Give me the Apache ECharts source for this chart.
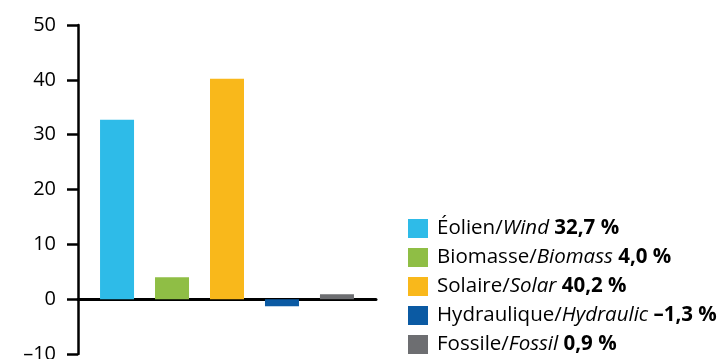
<!DOCTYPE html>
<html>
<head>
<meta charset="utf-8">
<script src="https://cdn.jsdelivr.net/npm/echarts@6/dist/echarts.min.js"></script>
<style>
  html, body { margin: 0; padding: 0; background: #fff; }
  #chart { width: 721px; height: 359px; }
</style>
</head>
<body>
<div id="chart"></div>
<script>
'use strict';

var namesFr = ['Éolien', 'Biomasse', 'Solaire', 'Hydraulique', 'Fossile'];
var namesEn = ['Wind', 'Biomass', 'Solar', 'Hydraulic', 'Fossil'];
var values = [32.7, 4.0, 40.2, -1.3, 0.9];
var colors = ['#2ebbe8', '#8fbe45', '#f9b81b', '#0b5aa3', '#6d6e71'];
var yTicks = { min: -10, max: 50, step: 10 };

var FONT = '"Open Sans", sans-serif';

function fmt(v) {
    var s = Math.abs(v).toFixed(1).replace('.', ',') + ' %';
    return v < 0 ? '–' + s : s;
}

var series = namesFr.map(function(n, i) {
    return {
        name: n,
        type: 'bar',
        stack: 'all',
        barWidth: 34,
        itemStyle: { color: colors[i] },
        data: [[i, values[i]]]
    };
});

var myChart = echarts.init(document.getElementById('chart'));
myChart.setOption({
    animation: false,
    grid: { left: 78, right: 345, top: 25, bottom: 5, outerBoundsMode: 'none', containLabel: false },
    xAxis: {
        type: 'value',
        min: -0.71,
        max: 4.71,
        axisLine: { show: true, onZero: true, lineStyle: { color: '#000', width: 3 } },
        axisTick: { show: false },
        axisLabel: { show: false },
        splitLine: { show: false }
    },
    yAxis: {
        type: 'value',
        min: yTicks.min,
        max: yTicks.max,
        interval: yTicks.step,
        axisLine: { show: true, onZero: false, lineStyle: { color: '#000', width: 2.5 } },
        axisTick: { show: true, length: 11, lineStyle: { color: '#000', width: 2.5 } },
        axisLabel: {
            margin: 22,
            color: '#000',
            fontFamily: FONT,
            fontSize: 20,
            formatter: function(v) { return v < 0 ? '–' + Math.abs(v) : String(v); }
        },
        splitLine: { show: false }
    },
    legend: {
        orient: 'vertical',
        left: 408,
        top: 218,
        height: 141,
        padding: 0,
        itemWidth: 20,
        itemHeight: 19,
        itemGap: 8,
        icon: 'rect',
        data: namesFr,
        formatter: function(name) {
            var i = namesFr.indexOf(name);
            return '{n|' + name + '/}{i|' + namesEn[i] + '}{b| ' + fmt(values[i]) + '}';
        },
        textStyle: {
            padding: [0, 0, 0, 4],
            lineHeight: 20,
            rich: {
                n: { fontFamily: FONT, fontSize: 20.5, lineHeight: 20, color: '#000' },
                i: { fontFamily: FONT, fontSize: 20.5, lineHeight: 20, color: '#000', fontStyle: 'italic' },
                b: { fontFamily: FONT, fontSize: 20.5, lineHeight: 20, color: '#000', fontWeight: 'bold' }
            }
        }
    },
    series: series
});
</script>
</body>
</html>
